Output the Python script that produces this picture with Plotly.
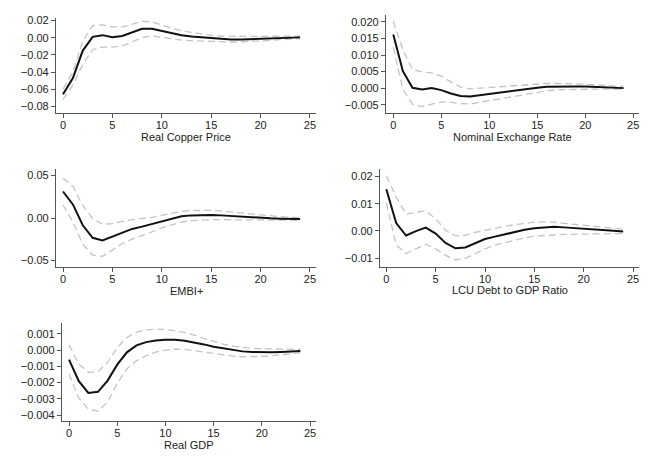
import plotly.graph_objects as go

steps = list(range(25))

titles = ["Real Copper Price", "Nominal Exchange Rate", "EMBI+",
          "LCU Debt to GDP Ratio", "Real GDP"]

copper_irf = [-0.066, -0.047, -0.015, 0.001, 0.003, 0.0005, 0.002, 0.0065, 0.0105, 0.0105,
              0.0077, 0.005, 0.003, 0.0015, 0.0005, -0.0008, -0.0015, -0.002, -0.002, -0.0015,
              -0.001, -0.0008, -0.0004, 0.0, 0.0004]
copper_hi = [-0.060, -0.040, -0.004, 0.014, 0.015, 0.0127, 0.0127, 0.016, 0.019, 0.0185,
             0.0146, 0.011, 0.008, 0.006, 0.004, 0.0027, 0.002, 0.0015, 0.0015, 0.0015,
             0.0015, 0.0015, 0.002, 0.002, 0.002]
copper_lo = [-0.072, -0.055, -0.031, -0.014, -0.011, -0.011, -0.0096, -0.0046, 0.0, 0.002,
             0.0004, -0.001, -0.0027, -0.0035, -0.004, -0.0046, -0.005, -0.005, -0.005, -0.004,
             -0.004, -0.003, -0.002, -0.0015, -0.001]

fx_irf = [0.0162, 0.0051, 0.0001, -0.0004, 0.0, -0.0006, -0.0016, -0.0024, -0.0025, -0.0021,
          -0.0017, -0.0014, -0.0011, -0.0007, -0.0003, 0.0001, 0.0004, 0.0005, 0.0005, 0.0005,
          0.0005, 0.0004, 0.0003, 0.0001, 0.0]
fx_hi = [0.0202, 0.0116, 0.0056, 0.0049, 0.0046, 0.0036, 0.0019, 0.0003, -0.0002, 0.0,
         0.0002, 0.0004, 0.0007, 0.001, 0.0012, 0.0013, 0.0014, 0.0014, 0.0014, 0.0013,
         0.0012, 0.001, 0.0008, 0.0006, 0.0005]
fx_lo = [0.0123, -0.0004, -0.0049, -0.0056, -0.0048, -0.0042, -0.0043, -0.0047, -0.0048, -0.0043,
         -0.0037, -0.0032, -0.0027, -0.0022, -0.0017, -0.0012, -0.0008, -0.0005, -0.0004, -0.0003,
         -0.0003, -0.0003, -0.0003, -0.0003, -0.0003]

embi_irf = [0.0313, 0.016, -0.0086, -0.0234, -0.0266, -0.0219, -0.0168, -0.0129, -0.0102, -0.007,
            -0.0035, -0.0004, 0.002, 0.0031, 0.0035, 0.0035, 0.0031, 0.0023, 0.0016, 0.0008,
            0.0004, -0.0004, -0.0008, -0.0012, -0.0012]
embi_hi = [0.047, 0.0375, 0.0148, -0.0008, -0.0074, -0.0066, -0.0039, -0.002, -0.0004, 0.0008,
           0.0031, 0.0059, 0.0078, 0.009, 0.0094, 0.009, 0.0082, 0.007, 0.0059, 0.0047,
           0.0035, 0.0023, 0.0016, 0.0008, 0.0004]
embi_lo = [0.0156, -0.0047, -0.0309, -0.0438, -0.0453, -0.0375, -0.0301, -0.025, -0.0211, -0.0164,
           -0.0117, -0.0078, -0.0047, -0.0031, -0.0023, -0.002, -0.002, -0.002, -0.002, -0.0023,
           -0.0023, -0.0027, -0.0027, -0.0027, -0.0027]

debt_irf = [0.0153, 0.0029, -0.0017, -0.0001, 0.0012, -0.001, -0.0044, -0.0064, -0.0061, -0.0046,
            -0.003, -0.0021, -0.0012, -0.0004, 0.0004, 0.001, 0.0013, 0.0015, 0.0013, 0.0011,
            0.0009, 0.0006, 0.0004, 0.0001, -0.0002]
debt_hi = [0.0203, 0.0124, 0.0061, 0.0069, 0.0073, 0.0045, 0.0002, -0.0018, -0.0016, -0.0005,
           0.0002, 0.001, 0.0017, 0.0023, 0.0028, 0.0032, 0.0033, 0.0032, 0.0028, 0.0024,
           0.0021, 0.0017, 0.0013, 0.001, 0.0006]
debt_lo = [0.0103, -0.0052, -0.0083, -0.0067, -0.0049, -0.0066, -0.009, -0.0107, -0.0101, -0.0084,
           -0.0066, -0.0052, -0.0043, -0.0034, -0.0026, -0.0019, -0.0016, -0.0015, -0.0013, -0.0012,
           -0.0011, -0.001, -0.001, -0.001, -0.001]

gdp_irf = [-0.00059, -0.0019, -0.00264, -0.00257, -0.00188, -0.0009, -0.00014, 0.00029, 0.00049, 0.00059,
           0.00063, 0.00063, 0.00057, 0.00047, 0.00035, 0.0002, 0.0001, 0.0, -0.00008, -0.00012,
           -0.00014, -0.00014, -0.00012, -0.0001, -0.00006]
gdp_hi = [0.00033, -0.00086, -0.00137, -0.00133, -0.00076, 0.00014, 0.00078, 0.0011, 0.00124, 0.00129,
          0.00127, 0.0012, 0.00108, 0.00092, 0.00071, 0.00053, 0.00037, 0.00024, 0.00016, 0.0001,
          0.00008, 0.00006, 0.00006, 0.00004, 0.00004]
gdp_lo = [-0.00147, -0.00294, -0.00363, -0.00376, -0.0032, -0.00204, -0.00116, -0.00065, -0.00035, -0.00012,
          0.0, 0.00006, 0.00004, -0.00004, -0.00012, -0.00022, -0.00031, -0.00037, -0.00041, -0.00041,
          -0.00039, -0.00035, -0.00029, -0.00022, -0.00016]

x_ticks = [0, 5, 10, 15, 20, 25]
y_ticks = [
    [0.02, 0.0, -0.02, -0.04, -0.06, -0.08],
    [0.020, 0.015, 0.010, 0.005, 0.000, -0.005],
    [0.05, 0.0, -0.05],
    [0.02, 0.01, 0.0, -0.01],
    [0.001, 0.0, -0.001, -0.002, -0.003, -0.004],
]
y_fmt = [".2f", ".3f", ".2f", ".2f", ".3f"]

series = [
    (copper_irf, copper_hi, copper_lo),
    (fx_irf, fx_hi, fx_lo),
    (embi_irf, embi_hi, embi_lo),
    (debt_irf, debt_hi, debt_lo),
    (gdp_irf, gdp_hi, gdp_lo),
]

W, H = 668, 475
# panel boxes in pixels: (left, right, top, bottom)
boxes = [(56, 316, 15, 111), (386, 639, 12, 111), (56, 316, 167, 266),
         (380, 639, 167, 266), (62, 316, 322, 421)]
title_y = [135, 135, 290, 289, 445]
x_ranges = [(-0.71, 25.61), (-0.76, 25.6), (-0.71, 25.61), (-0.64, 25.6), (-0.73, 25.62)]
y_ranges = [(-0.0881, 0.0231), (-0.0076, 0.0221), (-0.0582, 0.0579),
            (-0.0134, 0.0228), (-0.00439, 0.00167)]

fig = go.Figure()
font = dict(family="Liberation Sans, Arial, sans-serif", size=11, color="#222222")
axis_col = "#555555"
layout = {}
annotations = []
for i, (irf, hi, lo) in enumerate(series):
    n = i + 1
    xa = "x" if n == 1 else f"x{n}"
    ya = "y" if n == 1 else f"y{n}"
    for band in (hi, lo):
        fig.add_trace(go.Scatter(x=steps, y=band, mode="lines", xaxis=xa, yaxis=ya,
                                 line=dict(color="#c4c4c4", width=1.3, dash="7px,4px"),
                                 showlegend=False, hoverinfo="skip"))
    fig.add_trace(go.Scatter(x=steps, y=irf, mode="lines", xaxis=xa, yaxis=ya,
                             line=dict(color="#111111", width=2),
                             showlegend=False))
    l, r, t, b = boxes[i]
    xk = "xaxis" if n == 1 else f"xaxis{n}"
    yk = "yaxis" if n == 1 else f"yaxis{n}"
    layout[xk] = dict(domain=[l / W, r / W], anchor=ya, range=list(x_ranges[i]),
                      tickvals=x_ticks, ticks="outside", ticklen=4, tickwidth=1,
                      ticklabelstandoff=-3,
                      tickcolor=axis_col, showline=True, linecolor=axis_col, linewidth=1.2,
                      showgrid=False, zeroline=False, tickfont=font)
    layout[yk] = dict(domain=[1 - b / H, 1 - t / H], anchor=xa, range=list(y_ranges[i]),
                      tickvals=y_ticks[i], tickformat=y_fmt[i], ticks="outside", ticklen=4,
                      tickwidth=1, tickcolor=axis_col, showline=True, linecolor=axis_col,
                      linewidth=1.2, showgrid=False, zeroline=False, tickfont=font)
    annotations.append(dict(text=titles[i], xref=f"{xa} domain", x=0.5, xanchor="center",
                            yref="paper", y=1 - title_y[i] / H, yanchor="middle",
                            showarrow=False, font=font))

fig.update_layout(width=W, height=H, margin=dict(l=0, r=0, t=0, b=0),
                  paper_bgcolor="white", plot_bgcolor="white", font=font,
                  annotations=annotations, **layout)
fig.write_html("out.html")
